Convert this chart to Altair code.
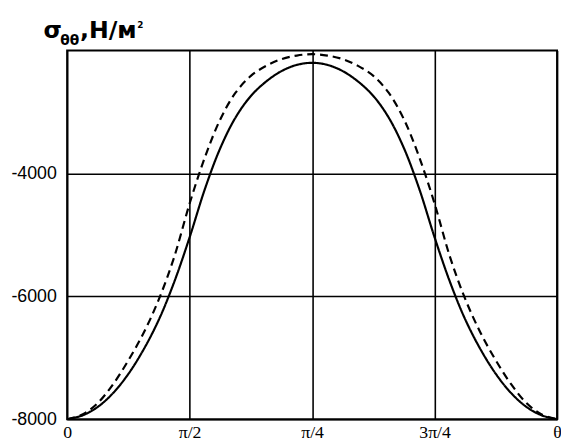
import altair as alt
import pandas as pd

# x positions in tick units (0 .. 4 -> 0, π/2, π/4, 3π/4, θ as labelled)
t_values = [0, 0.125, 0.25, 0.375, 0.5, 0.625, 0.75, 0.875, 1.0, 1.125, 1.25, 1.375,
            1.5, 1.625, 1.75, 1.875, 2.0, 2.125, 2.25, 2.375, 2.5, 2.625, 2.75, 2.875,
            3.0, 3.125, 3.25, 3.375, 3.5, 3.625, 3.75, 3.875, 4.0]

solid_values = [-8000, -7938, -7800, -7575, -7263, -6863, -6375, -5763, -5040, -4252,
                -3590, -3090, -2740, -2504, -2335, -2234, -2200, -2234, -2335, -2504,
                -2740, -3090, -3590, -4252, -5040, -5763, -6375, -6863, -7263, -7575,
                -7800, -7938, -8000]

dashed_values = [-8000, -7925, -7737, -7431, -7043, -6593, -6043, -5355, -4490, -3737,
                 -3121, -2687, -2413, -2250, -2140, -2082, -2059, -2082, -2140, -2250,
                 -2413, -2687, -3121, -3737, -4490, -5355, -6043, -6593, -7043, -7431,
                 -7737, -7925, -8000]

x_tick_values = [0, 1, 2, 3, 4]
x_tick_labels = ["0", "π/2", "π/4", "3π/4", "θ"]
y_tick_values = [-8000, -6000, -4000]

rows = []
for t, v in zip(t_values, solid_values):
    rows.append({"t": t, "v": v, "series": "solid"})
for t, v in zip(t_values, dashed_values):
    rows.append({"t": t, "v": v, "series": "dashed"})
df = pd.DataFrame(rows)

label_expr = "[" + ",".join("'" + s + "'" for s in x_tick_labels) + "][datum.value]"

lines = alt.Chart(df).mark_line(
    color="black", strokeWidth=2.2, interpolate="catmull-rom"
).encode(
    x=alt.X("t:Q", scale=alt.Scale(domain=[0, 4], nice=False, zero=False),
            axis=alt.Axis(values=x_tick_values, labelExpr=label_expr, title=None,
                          ticks=False, domain=False, grid=True, gridColor="black",
                          gridWidth=1.6, gridOpacity=1, labelFont="Liberation Serif",
                          labelFontSize=18, labelColor="black", labelPadding=5,
                          labelFlush=False, labelOverlap=False, labelBound=False)),
    y=alt.Y("v:Q", scale=alt.Scale(domain=[-8000, -2000], nice=False, zero=False),
            axis=alt.Axis(values=y_tick_values, labelExpr="'' + datum.value",
                          title=None, ticks=False, domain=False, grid=True,
                          gridColor="black", gridWidth=1.6, gridOpacity=1,
                          labelFont="Liberation Sans", labelFontSize=18,
                          labelColor="black", labelPadding=11)),
    strokeDash=alt.StrokeDash("series:N",
                              scale=alt.Scale(domain=["solid", "dashed"],
                                              range=[[1, 0], [8, 5]]),
                              legend=None),
    detail="series:N",
)

one = pd.DataFrame({"a": [0]})
sigma = alt.Chart(one).mark_text(
    text="σ", font="DejaVu Sans", fontSize=24, fontWeight="bold",
    align="left", baseline="alphabetic", color="black"
).encode(x=alt.value(-24), y=alt.value(-13))
sub = alt.Chart(one).mark_text(
    text="θθ", font="DejaVu Sans", fontSize=14, fontWeight="bold",
    align="left", baseline="alphabetic", color="black"
).encode(x=alt.value(-7), y=alt.value(-6))
unit = alt.Chart(one).mark_text(
    text=",Н/м", font="DejaVu Sans", fontSize=24, fontWeight="bold",
    align="left", baseline="alphabetic", color="black"
).encode(x=alt.value(13), y=alt.value(-13))
sup = alt.Chart(one).mark_text(
    text="2", font="DejaVu Sans", fontSize=9, fontWeight="bold",
    align="left", baseline="alphabetic", color="black"
).encode(x=alt.value(71), y=alt.value(-23))

chart = alt.layer(lines, sigma, sub, unit, sup).properties(
    width=497, height=374,
    autosize=alt.AutoSizeParams(type="none"),
    padding={"left": 60, "top": 40, "right": 4, "bottom": 20},
).configure_view(stroke="black", strokeWidth=2)

chart.save("out.html", embed_options={"renderer": "svg", "actions": False})
